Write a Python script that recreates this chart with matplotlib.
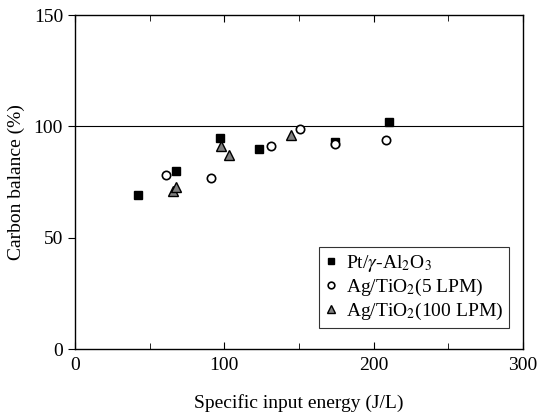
import matplotlib
matplotlib.use("Agg")
import matplotlib.pyplot as plt
from matplotlib.ticker import MultipleLocator

plt.rcParams["font.family"] = ["Liberation Serif", "DejaVu Serif"]
plt.rcParams["mathtext.fontset"] = "stix"

# Pt/gamma-Al2O3
pt_energy = [42, 68, 97, 123, 174, 210]
pt_balance = [69, 80, 95, 90, 93, 102]

# Ag/TiO2 at 5 LPM
ag5_energy = [61, 91, 131, 151, 174, 208]
ag5_balance = [78, 77, 91, 99, 92, 94]

# Ag/TiO2 at 100 LPM
ag100_energy = [66, 68, 98, 103, 145]
ag100_balance = [71, 73, 91, 87, 96]

fig = plt.figure(figsize=(5.5, 4.2), dpi=100)
ax = fig.add_axes([0.136, 0.169, 0.815, 0.795])

ax.axhline(100, color="black", lw=0.8, zorder=1)

ax.plot(pt_energy, pt_balance, "s", color="black", ms=6,
        label=r"Pt/$\gamma$-Al$_2$O$_3$", zorder=3)
ax.plot(ag5_energy, ag5_balance, "o", mfc="white", mec="black", mew=1.2,
        ms=6, label=r"Ag/TiO$_2$(5 LPM)", zorder=3)
ax.plot(ag100_energy, ag100_balance, "^", mfc="#808080", mec="black",
        mew=1.0, ms=7, label=r"Ag/TiO$_2$(100 LPM)", zorder=3)

ax.set_xlim(0, 300)
ax.set_ylim(0, 150)
ax.set_xticks([0, 100, 200, 300])
ax.set_yticks([0, 50, 100, 150])
ax.xaxis.set_minor_locator(MultipleLocator(50))

ax.tick_params(axis="x", which="both", direction="in", top=True,
               labelsize=14, pad=6)
ax.tick_params(axis="y", which="both", direction="out", labelsize=14)
ax.tick_params(which="major", length=5)
ax.tick_params(which="minor", length=4)

for side in ax.spines.values():
    side.set_linewidth(1.0)

ax.set_xlabel("Specific input energy (J/L)", fontsize=14, labelpad=14)
ax.set_ylabel("Carbon balance (%)", fontsize=14, labelpad=6)

leg = ax.legend(loc="lower right", bbox_to_anchor=(0.99, 0.035),
                fontsize=14, frameon=True, fancybox=False,
                edgecolor="black", handlelength=0.7, handletextpad=0.4,
                borderpad=0.3, labelspacing=0.15, markerscale=0.8)
leg.get_frame().set_linewidth(0.8)

fig.savefig("out.png", dpi=100)
